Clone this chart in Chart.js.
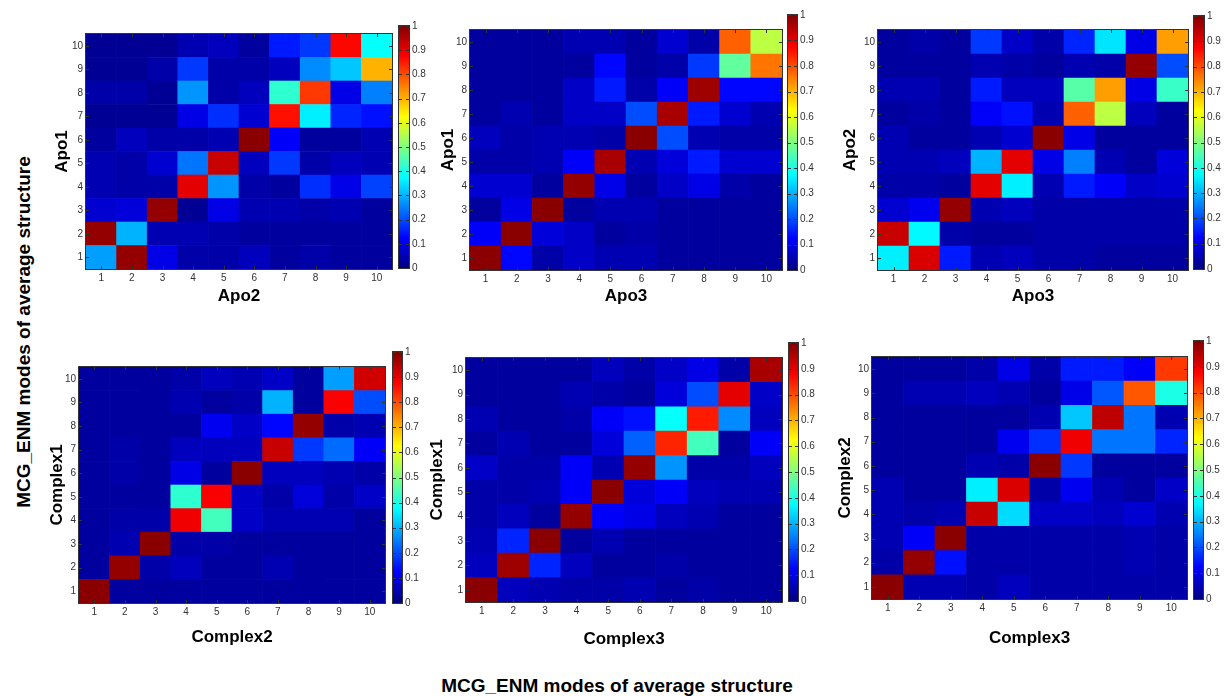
<!DOCTYPE html>
<html>
<head>
<meta charset="utf-8">
<title>MCG_ENM mode overlap</title>
<script src="https://cdn.jsdelivr.net/npm/chart.js@4.4.1/dist/chart.umd.min.js"></script>
<style>
  body { margin: 0; background: #fff; }
  #figure { position: relative; width: 1225px; height: 696px; overflow: hidden; font-family: "Liberation Sans", Arial, sans-serif; }
  #figure canvas { position: absolute; }
  .suptitle { position: absolute; font-weight: bold; font-size: 19px; color: #000; white-space: nowrap; }
  #xlabel { left: 617px; top: 686px; transform: translate(-50%, -50%); }
  #ylabel { left: 24px; top: 332px; transform: translate(-50%, -50%) rotate(-90deg); }
</style>
</head>
<body>
<div id="figure">
  <div class="suptitle" id="xlabel">MCG_ENM modes of average structure</div>
  <div class="suptitle" id="ylabel">MCG_ENM modes of average structure</div>
</div>
<script>
const modeLabels = [1, 2, 3, 4, 5, 6, 7, 8, 9, 10];
const colorbarTicks = [0, 0.1, 0.2, 0.3, 0.4, 0.5, 0.6, 0.7, 0.8, 0.9, 1];

// overlap matrices, one row per mode on the y axis (mode 1 first), columns = x-axis modes
const apo1Apo2 = [
    [0.28, 0.98, 0.10, 0.04, 0.04, 0.06, 0.03, 0.04, 0.03, 0.03],
    [0.98, 0.30, 0.05, 0.05, 0.04, 0.03, 0.03, 0.03, 0.03, 0.03],
    [0.08, 0.09, 0.98, 0.02, 0.10, 0.05, 0.05, 0.04, 0.05, 0.03],
    [0.05, 0.04, 0.04, 0.90, 0.27, 0.04, 0.03, 0.17, 0.10, 0.19],
    [0.05, 0.04, 0.08, 0.24, 0.93, 0.06, 0.18, 0.04, 0.06, 0.05],
    [0.03, 0.06, 0.04, 0.04, 0.05, 0.99, 0.12, 0.03, 0.03, 0.05],
    [0.02, 0.02, 0.02, 0.10, 0.17, 0.08, 0.86, 0.36, 0.16, 0.14],
    [0.04, 0.04, 0.02, 0.27, 0.04, 0.06, 0.42, 0.82, 0.10, 0.25],
    [0.02, 0.02, 0.04, 0.18, 0.04, 0.04, 0.06, 0.26, 0.32, 0.70],
    [0.02, 0.02, 0.02, 0.05, 0.06, 0.03, 0.15, 0.18, 0.87, 0.38]
];
const apo1Apo3 = [
    [0.99, 0.13, 0.04, 0.07, 0.05, 0.05, 0.03, 0.03, 0.03, 0.03],
    [0.12, 0.99, 0.09, 0.07, 0.03, 0.04, 0.03, 0.03, 0.03, 0.03],
    [0.03, 0.10, 0.99, 0.03, 0.05, 0.05, 0.03, 0.03, 0.03, 0.03],
    [0.08, 0.08, 0.03, 0.98, 0.10, 0.03, 0.07, 0.10, 0.04, 0.03],
    [0.04, 0.04, 0.05, 0.12, 0.96, 0.05, 0.09, 0.15, 0.08, 0.08],
    [0.06, 0.04, 0.05, 0.05, 0.04, 0.99, 0.20, 0.05, 0.04, 0.04],
    [0.03, 0.05, 0.03, 0.07, 0.07, 0.20, 0.96, 0.15, 0.08, 0.05],
    [0.03, 0.03, 0.03, 0.07, 0.15, 0.04, 0.12, 0.97, 0.13, 0.13],
    [0.03, 0.03, 0.03, 0.03, 0.13, 0.03, 0.04, 0.18, 0.47, 0.76],
    [0.03, 0.03, 0.03, 0.05, 0.05, 0.03, 0.08, 0.04, 0.78, 0.56]
];
const apo2Apo3 = [
    [0.36, 0.91, 0.15, 0.05, 0.06, 0.04, 0.04, 0.03, 0.03, 0.03],
    [0.93, 0.37, 0.04, 0.03, 0.03, 0.04, 0.04, 0.04, 0.04, 0.04],
    [0.08, 0.11, 0.98, 0.05, 0.06, 0.04, 0.04, 0.04, 0.04, 0.04],
    [0.04, 0.04, 0.03, 0.90, 0.36, 0.05, 0.15, 0.12, 0.07, 0.08],
    [0.05, 0.05, 0.06, 0.30, 0.90, 0.10, 0.25, 0.05, 0.03, 0.09],
    [0.05, 0.03, 0.03, 0.05, 0.08, 0.99, 0.10, 0.03, 0.03, 0.03],
    [0.03, 0.04, 0.03, 0.12, 0.14, 0.05, 0.78, 0.56, 0.06, 0.03],
    [0.05, 0.05, 0.03, 0.15, 0.06, 0.06, 0.46, 0.72, 0.10, 0.43],
    [0.03, 0.03, 0.03, 0.05, 0.04, 0.03, 0.05, 0.04, 0.98, 0.20],
    [0.03, 0.04, 0.03, 0.18, 0.07, 0.04, 0.16, 0.35, 0.10, 0.72]
];
const complex1Complex2 = [
    [0.99, 0.03, 0.03, 0.03, 0.03, 0.03, 0.03, 0.03, 0.03, 0.03],
    [0.03, 0.98, 0.04, 0.06, 0.03, 0.03, 0.05, 0.03, 0.03, 0.03],
    [0.03, 0.05, 0.99, 0.04, 0.04, 0.03, 0.03, 0.03, 0.03, 0.03],
    [0.03, 0.04, 0.04, 0.89, 0.44, 0.07, 0.05, 0.05, 0.05, 0.03],
    [0.03, 0.03, 0.03, 0.42, 0.88, 0.07, 0.04, 0.09, 0.04, 0.07],
    [0.03, 0.04, 0.03, 0.10, 0.03, 0.99, 0.06, 0.06, 0.05, 0.04],
    [0.03, 0.04, 0.03, 0.06, 0.06, 0.06, 0.93, 0.18, 0.23, 0.12],
    [0.03, 0.03, 0.03, 0.03, 0.11, 0.07, 0.13, 0.98, 0.04, 0.05],
    [0.03, 0.03, 0.03, 0.05, 0.03, 0.04, 0.30, 0.03, 0.88, 0.20],
    [0.03, 0.03, 0.03, 0.04, 0.06, 0.05, 0.07, 0.03, 0.28, 0.92]
];
const complex1Complex3 = [
    [0.99, 0.06, 0.05, 0.04, 0.04, 0.05, 0.03, 0.04, 0.03, 0.03],
    [0.06, 0.97, 0.16, 0.06, 0.03, 0.03, 0.04, 0.03, 0.03, 0.03],
    [0.05, 0.16, 0.99, 0.03, 0.05, 0.03, 0.03, 0.03, 0.03, 0.03],
    [0.04, 0.06, 0.03, 0.98, 0.12, 0.10, 0.06, 0.05, 0.03, 0.03],
    [0.04, 0.04, 0.05, 0.12, 0.99, 0.09, 0.12, 0.06, 0.05, 0.05],
    [0.07, 0.04, 0.04, 0.12, 0.05, 0.98, 0.27, 0.04, 0.04, 0.06],
    [0.03, 0.05, 0.03, 0.03, 0.09, 0.22, 0.84, 0.44, 0.03, 0.12],
    [0.05, 0.03, 0.03, 0.04, 0.12, 0.14, 0.38, 0.85, 0.26, 0.06],
    [0.03, 0.03, 0.03, 0.05, 0.04, 0.03, 0.09, 0.20, 0.90, 0.07],
    [0.03, 0.03, 0.03, 0.03, 0.06, 0.04, 0.07, 0.10, 0.04, 0.96]
];
const complex2Complex3 = [
    [0.99, 0.05, 0.05, 0.04, 0.06, 0.04, 0.04, 0.04, 0.04, 0.04],
    [0.04, 0.98, 0.14, 0.04, 0.04, 0.04, 0.04, 0.04, 0.05, 0.04],
    [0.05, 0.12, 0.99, 0.04, 0.04, 0.04, 0.04, 0.04, 0.05, 0.04],
    [0.05, 0.04, 0.05, 0.93, 0.34, 0.07, 0.07, 0.06, 0.08, 0.05],
    [0.05, 0.03, 0.03, 0.36, 0.91, 0.04, 0.11, 0.05, 0.03, 0.07],
    [0.03, 0.03, 0.03, 0.05, 0.04, 0.99, 0.18, 0.03, 0.03, 0.03],
    [0.03, 0.03, 0.03, 0.03, 0.11, 0.17, 0.89, 0.24, 0.24, 0.16],
    [0.03, 0.03, 0.03, 0.03, 0.03, 0.05, 0.32, 0.94, 0.24, 0.05],
    [0.03, 0.05, 0.05, 0.06, 0.05, 0.03, 0.10, 0.21, 0.79, 0.40],
    [0.03, 0.03, 0.03, 0.04, 0.10, 0.04, 0.15, 0.15, 0.12, 0.82]
];

// where each subplot sits on the page (plot box, colorbar box, axis title centres)
const panels = [
    { values: apo1Apo2, xTitle: "Apo2", yTitle: "Apo1", plot: {l: 86, t: 26, r: 392, b: 269}, cb: {l: 399, t: 25, r: 409, b: 269}, yTitleX: 62, xTitleY: 297 },
    { values: apo1Apo3, xTitle: "Apo3", yTitle: "Apo1", plot: {l: 470, t: 22, r: 782, b: 270}, cb: {l: 788, t: 14, r: 797, b: 271}, yTitleX: 448, xTitleY: 297 },
    { values: apo2Apo3, xTitle: "Apo3", yTitle: "Apo2", plot: {l: 878, t: 22, r: 1188, b: 270}, cb: {l: 1194, t: 15, r: 1204, b: 270}, yTitleX: 850, xTitleY: 297 },
    { values: complex1Complex2, xTitle: "Complex2", yTitle: "Complex1", plot: {l: 79, t: 359, r: 385, b: 603}, cb: {l: 393, t: 351, r: 402, b: 604}, yTitleX: 57, xTitleY: 638 },
    { values: complex1Complex3, xTitle: "Complex3", yTitle: "Complex1", plot: {l: 466, t: 350, r: 782, b: 602}, cb: {l: 789, t: 342, r: 798, b: 602}, yTitleX: 437, xTitleY: 640 },
    { values: complex2Complex3, xTitle: "Complex3", yTitle: "Complex2", plot: {l: 872, t: 349, r: 1187, b: 599}, cb: {l: 1194, t: 340, r: 1203, b: 600}, yTitleX: 845, xTitleY: 639 }
];

Chart.defaults.font.family = '"Liberation Sans", Arial, sans-serif';
const tickFont = { size: 10 };
const titleFont = { size: 17, weight: "bold" };

// matlab style jet colormap, v in [0, 1]
function jet(v) {
    const c = (x) => Math.round(255 * Math.min(1, Math.max(0, x)));
    return "rgb(" + c(1.5 - Math.abs(4 * v - 3)) + "," + c(1.5 - Math.abs(4 * v - 2)) + "," + c(1.5 - Math.abs(4 * v - 1)) + ")";
}

function jetGradient(chart) {
    const a = chart.chartArea;
    if (!a) return null;
    const g = chart.ctx.createLinearGradient(0, a.bottom, 0, a.top);
    [0, 0.125, 0.375, 0.625, 0.875, 1].forEach((s) => g.addColorStop(s, jet(s)));
    return g;
}

// box round the plot area plus short inward tick marks
const framePlugin = {
    id: "frame",
    afterDraw(chart, args, opts) {
        const { ctx, chartArea: a } = chart;
        const len = 3;
        ctx.save();
        ctx.strokeStyle = "#333";
        ctx.lineWidth = 1;
        ctx.beginPath();
        const y = chart.scales.y;
        y.ticks.forEach((tk) => {
            const py = Math.round(y.getPixelForValue(tk.value)) + 0.5;
            ctx.moveTo(a.left, py); ctx.lineTo(a.left + len, py);
            ctx.moveTo(a.right, py); ctx.lineTo(a.right - len, py);
        });
        if (opts.xTicks) {
            const x = chart.scales.x;
            x.ticks.forEach((tk, i) => {
                const px = Math.round(x.getPixelForTick(i)) + 0.5;
                ctx.moveTo(px, a.bottom); ctx.lineTo(px, a.bottom - len);
                ctx.moveTo(px, a.top); ctx.lineTo(px, a.top + len);
            });
        }
        ctx.stroke();
        ctx.strokeRect(Math.round(a.left) - 0.5, Math.round(a.top) - 0.5, Math.round(a.width) + 1, Math.round(a.height) + 1);
        ctx.restore();
    }
};

function addCanvas(left, top, width, height) {
    const canvas = document.createElement("canvas");
    canvas.width = width;
    canvas.height = height;
    canvas.style.left = left + "px";
    canvas.style.top = top + "px";
    document.getElementById("figure").appendChild(canvas);
    return canvas;
}

const noGrid = { display: false, drawTicks: false };

function drawHeatmap(p) {
    const lh = titleFont.size * 1.2;
    const left = Math.round(p.yTitleX - lh / 2);
    const axisW = p.plot.l - left;
    const axisH = Math.round(p.xTitleY - p.plot.b + lh / 2);
    const canvas = addCanvas(left, p.plot.t - 1, p.plot.r - left + 1, p.plot.b - p.plot.t + 1 + axisH);

    new Chart(canvas, {
        type: "bar",
        data: {
            labels: modeLabels.map(String),
            datasets: p.values.map((row, r) => ({
                data: row.map(() => [modeLabels[r] - 0.5, modeLabels[r] + 0.5]),
                backgroundColor: row.map(jet)
            }))
        },
        options: {
            responsive: false,
            animation: false,
            devicePixelRatio: 1,
            layout: { padding: { top: 1, right: 1, left: 0, bottom: 0 } },
            datasets: { bar: { grouped: false, barPercentage: 1, categoryPercentage: 1, borderWidth: 0 } },
            plugins: { legend: { display: false }, tooltip: { enabled: false }, frame: { xTicks: true } },
            scales: {
                x: {
                    grid: noGrid,
                    border: { display: false },
                    ticks: { font: tickFont, color: "#333", padding: 3, maxRotation: 0, autoSkip: false },
                    title: { display: true, text: p.xTitle, font: titleFont, color: "#000", padding: 0 },
                    afterFit: (s) => { s.height = axisH; }
                },
                y: {
                    min: 0.5,
                    max: 10.5,
                    afterBuildTicks: (s) => { s.ticks = modeLabels.map((v) => ({ value: v })); },
                    grid: noGrid,
                    border: { display: false },
                    ticks: { font: tickFont, color: "#333", padding: 3 },
                    title: { display: true, text: p.yTitle, font: titleFont, color: "#000", padding: 0 },
                    afterFit: (s) => { s.width = axisW; }
                }
            }
        },
        plugins: [framePlugin]
    });
}

function drawColorbar(cb) {
    const canvas = addCanvas(cb.l - 1, cb.t - 8, cb.r - cb.l + 25, cb.b - cb.t + 16);
    new Chart(canvas, {
        type: "bar",
        data: {
            labels: [""],
            datasets: [{ data: [[0, 1]], backgroundColor: (ctx) => jetGradient(ctx.chart) }]
        },
        options: {
            responsive: false,
            animation: false,
            devicePixelRatio: 1,
            layout: { padding: { top: 8, bottom: 8, left: 1, right: 0 } },
            datasets: { bar: { barPercentage: 1, categoryPercentage: 1, borderWidth: 0 } },
            plugins: { legend: { display: false }, tooltip: { enabled: false }, frame: { xTicks: false } },
            scales: {
                x: { display: false },
                y: {
                    position: "right",
                    min: 0,
                    max: 1,
                    afterBuildTicks: (s) => { s.ticks = colorbarTicks.map((v) => ({ value: v })); },
                    grid: noGrid,
                    border: { display: false },
                    ticks: { font: tickFont, color: "#333", padding: 3, callback: (v) => String(v) },
                    afterFit: (s) => { s.width = 24; }
                }
            }
        },
        plugins: [framePlugin]
    });
}

panels.forEach((p) => {
    drawHeatmap(p);
    drawColorbar(p.cb);
});
</script>
</body>
</html>
